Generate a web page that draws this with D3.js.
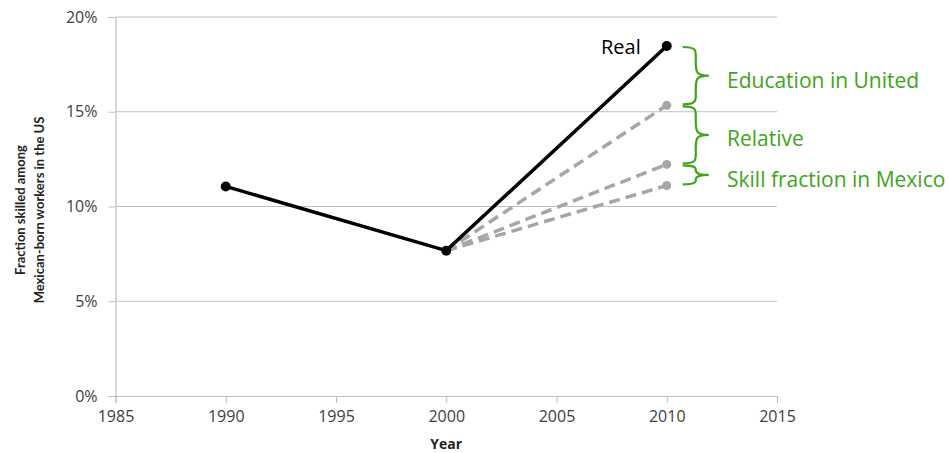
<!DOCTYPE html>
<html>
<head>
<meta charset="utf-8">
<script src="https://cdn.jsdelivr.net/npm/d3@7"></script>
<style>
  html, body { margin: 0; padding: 0; background: #fff; }
  svg { display: block; }
</style>
</head>
<body>
<svg id="chart" width="949" height="453"></svg>
<script>
// Observed skilled share and counterfactual projections
const years = [1990, 2000, 2010];
const realShare = [0.1106, 0.0767, 0.1847];
const counterfactualStart = 0.0767;
const counterfactualEnd = [0.1534, 0.1222, 0.1111];
const realLabel = "Real";
const braceLabels = ["Education in United", "Relative", "Skill fraction in Mexico"];
const yTicks = [0, 0.05, 0.10, 0.15, 0.20];
const xTicks = [1985, 1990, 1995, 2000, 2005, 2010, 2015];
const yTitle = ["Fraction skilled among", "Mexican-born workers in the US"];
const xTitle = "Year";

const svg = d3.select("#chart");
const font = "'Open Sans', sans-serif";
const titleFont = "Lato, sans-serif";

const x = d3.scaleLinear().domain([1985, 2015]).range([115.5, 777]);
const y = d3.scaleLinear().domain([0, 0.20]).range([396, 17]);

// horizontal gridlines
svg.append("g").selectAll("line").data(yTicks.slice(1)).join("line")
  .attr("x1", x(1985)).attr("x2", x(2015))
  .attr("y1", d => y(d)).attr("y2", d => y(d))
  .attr("stroke", "#c0c0c0").attr("stroke-width", 1);

// y axis
const yAxis = svg.append("g").attr("transform", `translate(${x(1985)},0)`)
  .call(d3.axisLeft(y).tickValues(yTicks).tickFormat(d3.format(".0%")).tickSize(7).tickPadding(11));
yAxis.select(".domain").attr("stroke", "#bfbfbf").attr("stroke-width", 1.2);
yAxis.selectAll(".tick line").attr("stroke", "#bfbfbf");
yAxis.selectAll("text").attr("fill", "#404040").style("font-family", font).style("font-size", "16px");

// x axis
const xAxis = svg.append("g").attr("transform", `translate(0,${y(0)})`)
  .call(d3.axisBottom(x).tickValues(xTicks).tickFormat(d3.format("d")).tickSize(7).tickPadding(8));
xAxis.select(".domain").attr("stroke", "#bfbfbf").attr("stroke-width", 1.2);
xAxis.selectAll(".tick line").attr("stroke", "#bfbfbf");
xAxis.selectAll("text").attr("fill", "#404040").style("font-family", font).style("font-size", "16px");

// axis titles
svg.append("text").attr("x", x(2000)).attr("y", 449).attr("text-anchor", "middle")
  .style("font-family", font).style("font-size", "14px").style("font-weight", "bold")
  .attr("fill", "#222").text(xTitle);
const yt = svg.append("text").attr("transform", "translate(25,210) rotate(-90)")
  .attr("text-anchor", "middle").style("font-family", titleFont).style("font-size", "13px")
  .style("font-weight", "bold").attr("fill", "#222");
yt.selectAll("tspan").data(yTitle).join("tspan")
  .attr("x", 0).attr("dy", (d, i) => i === 0 ? 0 : 19).text(d => d);

// counterfactual dashed lines
const gray = "#a6a6a6";
svg.append("g").selectAll("line").data(counterfactualEnd).join("line")
  .attr("x1", x(2000)).attr("y1", y(counterfactualStart))
  .attr("x2", x(2010)).attr("y2", d => y(d))
  .attr("stroke", gray).attr("stroke-width", 3.5).attr("stroke-dasharray", "11,6");
svg.append("g").selectAll("circle").data(counterfactualEnd).join("circle")
  .attr("cx", x(2010)).attr("cy", d => y(d)).attr("r", 4.5).attr("fill", gray);

// real series
const realData = years.map((yr, i) => ({ yr, v: realShare[i] }));
svg.append("path").datum(realData)
  .attr("d", d3.line().x(d => x(d.yr)).y(d => y(d.v)))
  .attr("fill", "none").attr("stroke", "#000").attr("stroke-width", 3.5);
svg.append("g").selectAll("circle").data(realData).join("circle")
  .attr("cx", d => x(d.yr)).attr("cy", d => y(d.v)).attr("r", 5).attr("fill", "#000");

svg.append("text").attr("x", x(2010) - 26).attr("y", y(realShare[2]) + 8)
  .attr("text-anchor", "end")
  .style("font-family", font).style("font-size", "20px").attr("fill", "#000").text(realLabel);

// curly braces between the 2010 endpoints
const green = "#3ea41a";
function bracePath(bx, y1, y2, w) {
  const m = (y1 + y2) / 2;
  const q = w / 2;
  return `M${bx},${y1} C${bx + q + 2},${y1} ${bx + q},${y1 + 4} ${bx + q},${(y1 + m) / 2}` +
    ` C${bx + q},${m - 4} ${bx + q},${m} ${bx + w},${m}` +
    ` C${bx + q},${m} ${bx + q},${m + 4} ${bx + q},${(m + y2) / 2}` +
    ` C${bx + q},${y2 - 4} ${bx + q + 2},${y2} ${bx},${y2}`;
}
const stops = [realShare[2], ...counterfactualEnd];
const braces = braceLabels.map((lab, i) => ({ lab, top: y(stops[i]), bot: y(stops[i + 1]) }));
svg.append("g").selectAll("path").data(braces).join("path")
  .attr("d", d => bracePath(x(2010) + 16, d.top + 1, d.bot - 1, 26))
  .attr("fill", "none").attr("stroke", green).attr("stroke-width", 2.2);
const labelY = [80.5, 139, 180];
svg.append("g").selectAll("text").data(braces).join("text")
  .attr("x", 727).attr("y", (d, i) => labelY[i]).attr("dy", "0.35em")
  .style("font-family", font).style("font-size", "21px").attr("fill", green).text(d => d.lab);
</script>
</body>
</html>
